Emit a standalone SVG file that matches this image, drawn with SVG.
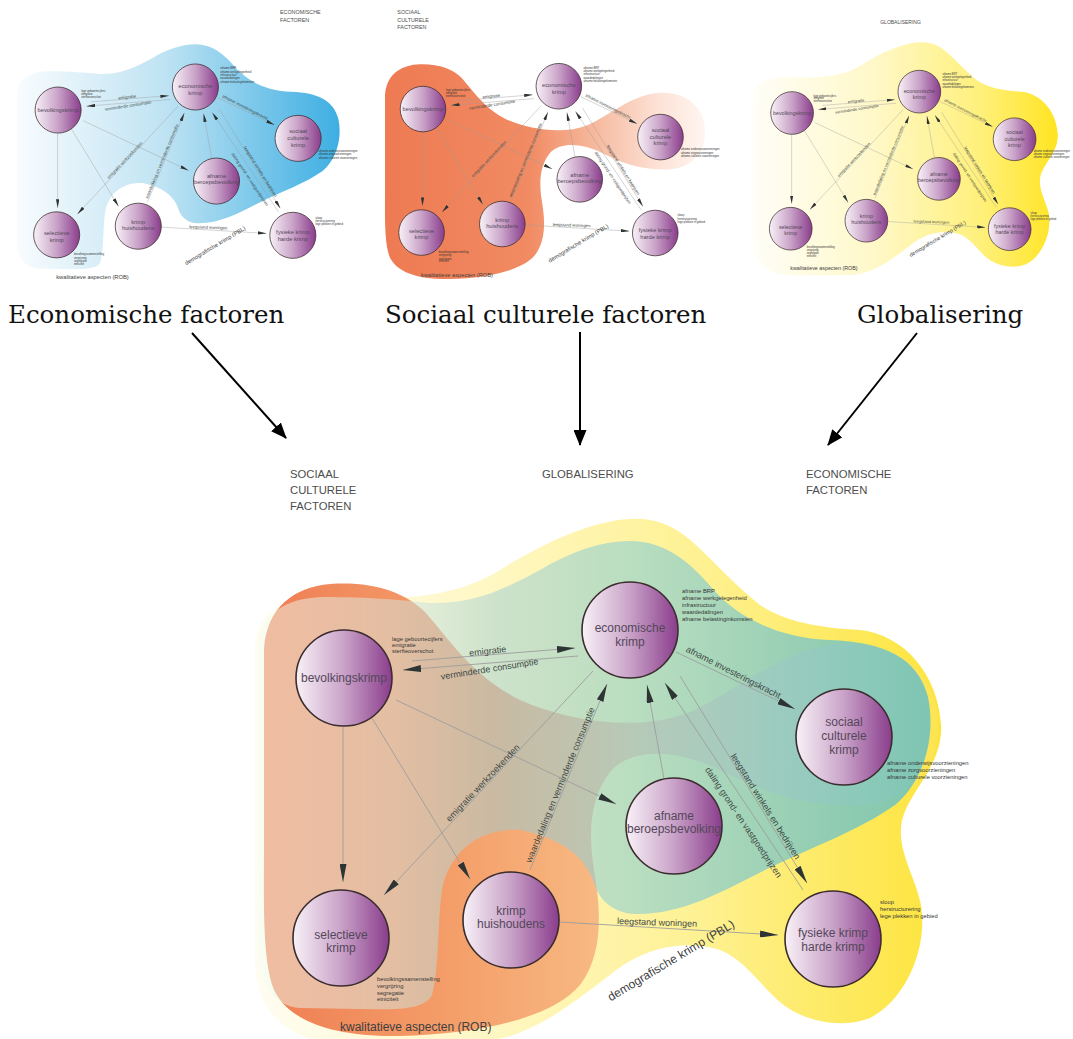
<svg xmlns="http://www.w3.org/2000/svg" xmlns:xlink="http://www.w3.org/1999/xlink" width="1073" height="1039" viewBox="0 0 1073 1039">
  <defs>
    <style>
      text { font-family: "Liberation Sans", Arial, sans-serif; }
      .caption { font-family: "DejaVu Serif", "Liberation Serif", serif; font-size: 24.5px; fill: #111; }
      .header { font-size: 11.3px; fill: #4d4d4d; }
      .node { fill: url(#nodeFill); stroke: #3b2c2e; stroke-width: 1.6; }
      .node-label { font-size: 12px; fill: #55475a; text-anchor: middle; }
      .note { font-size: 5.8px; fill: #353535; }
      .conn { fill: none; stroke: #9d9d9d; stroke-width: 0.9; marker-end: url(#tip); }
      .edge-label { font-size: 9px; fill: #3f4945; text-anchor: middle; }
      .zone-label { font-size: 12px; fill: #404040; }
      .flow { fill: none; stroke: #000; stroke-width: 2; marker-end: url(#bigTip); }
    </style>

    <!-- node fill: pale pink on the left to deep purple on the right -->
    <linearGradient id="nodeFill" x1="0" y1="0" x2="1" y2="0">
      <stop offset="0" stop-color="#f8f1f7"/>
      <stop offset="0.5" stop-color="#c9a2c8"/>
      <stop offset="1" stop-color="#8a3d8c"/>
    </linearGradient>

    <!-- translucent zone fills for the combined diagram -->
    <linearGradient id="yellowSoft" gradientUnits="userSpaceOnUse" x1="255" y1="0" x2="942" y2="0">
      <stop offset="0" stop-color="#fffdf2"/>
      <stop offset="0.35" stop-color="#fff7c2"/>
      <stop offset="0.65" stop-color="#fef192"/>
      <stop offset="1" stop-color="#fde43c"/>
    </linearGradient>
    <linearGradient id="orangeSoft" gradientUnits="userSpaceOnUse" x1="262" y1="0" x2="940" y2="0">
      <stop offset="0" stop-color="#ee7d52" stop-opacity="1"/>
      <stop offset="0.3" stop-color="#f49c66" stop-opacity="0.95"/>
      <stop offset="0.46" stop-color="#f6ad78" stop-opacity="0.9"/>
      <stop offset="0.63" stop-color="#f7b992" stop-opacity="0.7"/>
      <stop offset="0.8" stop-color="#fbd0b8" stop-opacity="0.45"/>
      <stop offset="1" stop-color="#fde6da" stop-opacity="0.12"/>
    </linearGradient>
    <linearGradient id="blueSoft" gradientUnits="userSpaceOnUse" x1="258" y1="0" x2="940" y2="0">
      <stop offset="0" stop-color="#f4fdf2" stop-opacity="0.5"/>
      <stop offset="0.2" stop-color="#d4e8e2" stop-opacity="0.5"/>
      <stop offset="0.35" stop-color="#9ccdd4" stop-opacity="0.5"/>
      <stop offset="0.55" stop-color="#8bcfd4" stop-opacity="0.6"/>
      <stop offset="0.8" stop-color="#6ac2d2" stop-opacity="0.7"/>
      <stop offset="1" stop-color="#58bccd" stop-opacity="0.78"/>
    </linearGradient>

    <!-- solid zone fills for the three single-factor diagrams -->
    <linearGradient id="blueSolid" gradientUnits="userSpaceOnUse" x1="258" y1="0" x2="940" y2="0">
      <stop offset="0" stop-color="#f8fcfe"/>
      <stop offset="0.45" stop-color="#bfe3f3"/>
      <stop offset="1" stop-color="#3aade2"/>
    </linearGradient>
    <linearGradient id="orangeSolid" gradientUnits="userSpaceOnUse" x1="262" y1="0" x2="945" y2="0">
      <stop offset="0" stop-color="#ee7a52"/>
      <stop offset="0.45" stop-color="#f18b63"/>
      <stop offset="0.65" stop-color="#f6b99e"/>
      <stop offset="0.85" stop-color="#fde3d7"/>
      <stop offset="1" stop-color="#fff7f3"/>
    </linearGradient>
    <linearGradient id="yellowSolid" gradientUnits="userSpaceOnUse" x1="255" y1="0" x2="942" y2="0">
      <stop offset="0" stop-color="#fffef8"/>
      <stop offset="0.4" stop-color="#fff8c8"/>
      <stop offset="0.75" stop-color="#fff07a"/>
      <stop offset="1" stop-color="#ffe420"/>
    </linearGradient>

    <!-- zone outlines -->
    <path id="shape-globalisering" d="M 630 519 C 660 517 680 530 697 546 C 715 563 735 585 760 605 C 785 622 820 628 860 630 C 905 635 938 675 941 725 C 943 765 910 790 902 820 C 896 850 915 875 921 905 C 928 950 905 1000 870 1018 C 840 1030 800 1020 780 1002 C 760 985 745 960 720 950 C 680 938 640 950 610 975 C 570 1005 530 1038 480 1042 L 340 1043 C 290 1043 255 1010 255 965 L 255 650 C 255 605 290 596 360 598 C 420 600 465 592 500 570 C 540 545 590 521 630 519 Z"/>
    <path id="shape-sociaal" d="M 330 584 C 372 581 405 592 425 612 C 450 640 472 676 520 700 C 570 722 640 732 690 712 C 740 690 782 648 840 644 C 895 640 938 672 938 725 C 938 778 900 804 858 805 C 800 807 760 790 720 770 C 680 750 632 746 610 772 C 590 798 588 832 594 870 C 600 905 605 952 580 985 C 552 1018 480 1034 400 1036 C 330 1037 290 1020 275 992 C 262 965 264 900 264 850 L 264 650 C 266 607 295 587 330 584 Z"/>
    <path id="shape-economisch" d="M 630 541 C 665 541 690 562 712 588 C 735 615 775 638 830 640 C 885 642 918 658 928 697 C 936 735 925 780 895 805 C 860 830 810 848 765 870 C 720 893 680 915 635 914 C 615 913 600 902 595 885 C 585 855 560 838 520 830 C 480 828 452 850 443 885 C 437 915 440 965 432 995 C 425 1010 395 1010 360 1009 L 300 1008 C 275 1006 258 985 258 955 L 258 650 C 258 615 285 598 322 597 C 370 597 400 600 430 603 C 470 604 500 592 540 570 C 570 552 600 541 630 541 Z"/>

    <marker id="tip" viewBox="0 0 18 7" refX="18" refY="3.5" markerWidth="18" markerHeight="7" markerUnits="userSpaceOnUse" orient="auto">
      <path d="M0,0 L18,3.5 L0,7 Z" fill="#2e3434"/>
    </marker>
    <marker id="bigTip" viewBox="0 0 16 13" refX="15" refY="6.5" markerWidth="16" markerHeight="13" markerUnits="userSpaceOnUse" orient="auto">
      <path d="M0,0 L16,6.5 L0,13 Z" fill="#000"/>
    </marker>
  </defs>

  <rect width="1073" height="1039" fill="#ffffff"/>

  <!-- combined diagram: zones -->
  <g id="zones-combined">
    <use href="#shape-globalisering" fill="url(#yellowSoft)"/>
    <use href="#shape-sociaal" fill="url(#orangeSoft)"/>
    <use href="#shape-economisch" fill="url(#blueSoft)"/>
  </g>

  <g id="headers-combined">
    <text class="header" x="290" y="478">SOCIAAL</text>
    <text class="header" x="290" y="494">CULTURELE</text>
    <text class="header" x="290" y="510">FACTOREN</text>
    <text class="header" x="542" y="478">GLOBALISERING</text>
    <text class="header" x="806" y="478">ECONOMISCHE</text>
    <text class="header" x="806" y="494">FACTOREN</text>
  </g>

  <!-- network of krimp effects, reused in the three small diagrams -->
  <g id="network">
    <g id="connectors">
      <path class="conn" d="M 412 661 L 575 648"/>
      <path class="conn" d="M 578 656 L 403 670"/>
      <path class="conn" d="M 676 652 L 795 709"/>
      <path class="conn" d="M 343 727 L 343 882"/>
      <path class="conn" d="M 372 718 L 470 879"/>
      <path class="conn" d="M 396 700 L 616 804"/>
      <path class="conn" d="M 593 671 L 384 895"/>
      <path class="conn" d="M 530 870 L 607 684"/>
      <path class="conn" d="M 664 779 L 647 685"/>
      <path class="conn" d="M 803 890 L 665 683"/>
      <path class="conn" d="M 680 676 L 807 883"/>
      <path class="conn" d="M 560 922 L 778 935"/>

      <text class="edge-label" transform="translate(488 654) rotate(-6)">emigratie</text>
      <text class="edge-label" transform="translate(490 672) rotate(-9)">verminderde consumptie</text>
      <text class="edge-label" transform="translate(732 675) rotate(27)">afname investeringskracht</text>
      <text class="edge-label" transform="translate(485 785) rotate(-46.6)">emigratie werkzoekenden</text>
      <text class="edge-label" transform="translate(563 786) rotate(-67.5)">waardedaling en verminderde consumptie</text>
      <text class="edge-label" transform="translate(741 824) rotate(56.3)">daling grond- en vastgoedprijzen</text>
      <text class="edge-label" transform="translate(763 808) rotate(57.8)">leegstand winkels en bedrijven</text>
      <text class="edge-label" style="text-anchor:start" transform="translate(617 924) rotate(2)">leegstand woningen</text>
    </g>

    <g id="zone-labels">
      <text class="zone-label" x="340" y="1031">kwalitatieve aspecten (ROB)</text>
      <text class="zone-label" text-anchor="middle" transform="translate(673 964) rotate(-31)">demografische krimp (PBL)</text>
    </g>

    <g id="node-economische-krimp">
      <circle class="node" cx="630" cy="630" r="48"/>
      <text class="node-label" x="630" y="632">economische</text>
      <text class="node-label" x="630" y="646">krimp</text>
      <text class="note" x="682" y="593">afname BRP</text>
      <text class="note" x="682" y="600">afname werkgelegenheid</text>
      <text class="note" x="682" y="607">infrastructuur</text>
      <text class="note" x="682" y="614">waardedalingen</text>
      <text class="note" x="682" y="621">afname belastinginkomsten</text>
    </g>

    <g id="node-bevolkingskrimp">
      <circle class="node" cx="344" cy="678" r="48"/>
      <text class="node-label" x="344" y="682">bevolkingskrimp</text>
      <text class="note" x="392" y="641">lage geboortecijfers</text>
      <text class="note" x="392" y="647">emigratie</text>
      <text class="note" x="392" y="653">sterfteoverschot</text>
    </g>

    <g id="node-sociaal-culturele-krimp">
      <circle class="node" cx="844" cy="737" r="48"/>
      <text class="node-label" x="844" y="726">sociaal</text>
      <text class="node-label" x="844" y="740">culturele</text>
      <text class="node-label" x="844" y="754">krimp</text>
      <text class="note" x="887" y="765">afname onderwijsvoorzieningen</text>
      <text class="note" x="887" y="772">afname zorgvoorzieningen</text>
      <text class="note" x="887" y="779">afname culturele voorzieningen</text>
    </g>

    <g id="node-afname-beroepsbevolking">
      <circle class="node" cx="674" cy="826" r="48"/>
      <text class="node-label" x="674" y="820">afname</text>
      <text class="node-label" x="674" y="833">beroepsbevolking</text>
    </g>

    <g id="node-selectieve-krimp">
      <circle class="node" cx="341" cy="938" r="48"/>
      <text class="node-label" x="341" y="939">selectieve</text>
      <text class="node-label" x="341" y="952">krimp</text>
      <text class="note" x="377" y="981">bevolkingssamenstelling</text>
      <text class="note" x="377" y="988">vergrijzing</text>
      <text class="note" x="377" y="995">segregatie</text>
      <text class="note" x="377" y="1001">etniciteit</text>
    </g>

    <g id="node-krimp-huishoudens">
      <circle class="node" cx="511" cy="920" r="48"/>
      <text class="node-label" x="511" y="915">krimp</text>
      <text class="node-label" x="511" y="928">huishoudens</text>
    </g>

    <g id="node-fysieke-krimp">
      <circle class="node" cx="833" cy="939" r="48"/>
      <text class="node-label" x="833" y="937">fysieke krimp</text>
      <text class="node-label" x="833" y="951">harde krimp</text>
      <text class="note" x="880" y="904">sloop</text>
      <text class="note" x="880" y="911">herstructurering</text>
      <text class="note" x="880" y="918">lege plekken in gebied</text>
    </g>
  </g>

  <!-- small diagram: economic factors -->
  <g id="diagram-economische-factoren" transform="translate(-107 -215.4) scale(0.48)">
    <use href="#shape-economisch" fill="url(#blueSolid)"/>
    <text class="header" x="806" y="478">ECONOMISCHE</text>
    <text class="header" x="806" y="494">FACTOREN</text>
    <use href="#network"/>
  </g>

  <!-- small diagram: social-cultural factors -->
  <g id="diagram-sociaal-culturele-factoren" transform="translate(259.6 -213) scale(0.475)">
    <use href="#shape-sociaal" fill="url(#orangeSolid)"/>
    <text class="header" x="290" y="478">SOCIAAL</text>
    <text class="header" x="290" y="494">CULTURELE</text>
    <text class="header" x="290" y="510">FACTOREN</text>
    <use href="#network"/>
  </g>

  <!-- small diagram: globalisation -->
  <g id="diagram-globalisering" transform="translate(639 -188.7) scale(0.445)">
    <use href="#shape-globalisering" fill="url(#yellowSolid)"/>
    <text class="header" x="542" y="478">GLOBALISERING</text>
    <use href="#network"/>
  </g>

  <!-- captions and the arrows that bring the three views together -->
  <g id="captions">
    <text class="caption" x="8" y="323">Economische factoren</text>
    <text class="caption" x="385" y="323">Sociaal culturele factoren</text>
    <text class="caption" x="857" y="323">Globalisering</text>
  </g>
  <g id="merge-arrows">
    <path class="flow" d="M 192 333 L 286 438"/>
    <path class="flow" d="M 580 332 L 580 445"/>
    <path class="flow" d="M 917 333 L 828 445"/>
  </g>
</svg>
